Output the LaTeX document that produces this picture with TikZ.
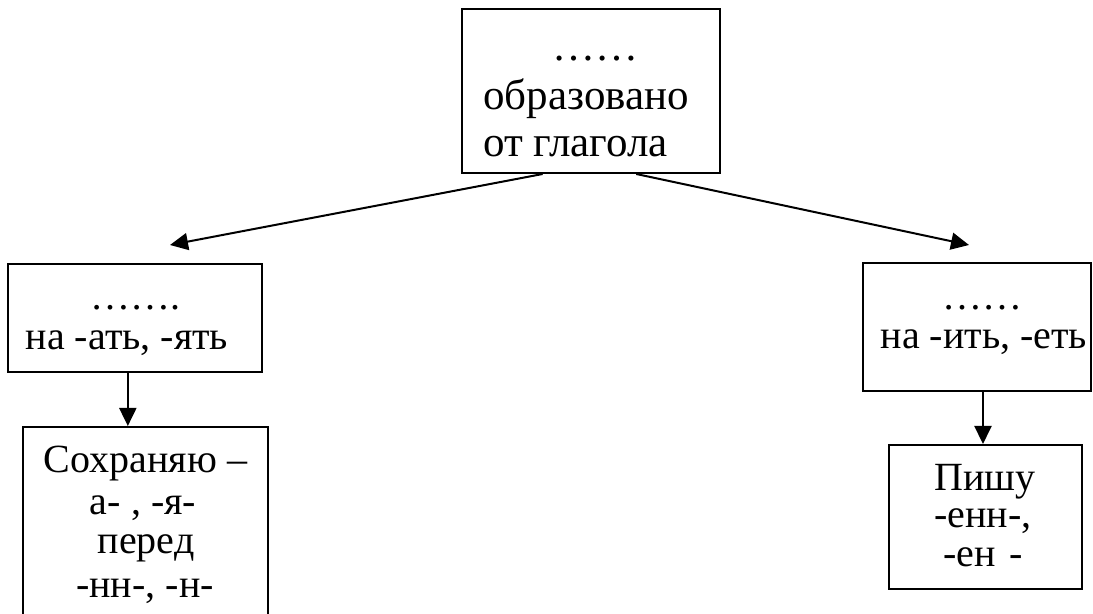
\documentclass[tikz,border=0pt]{standalone}
\usepackage{fontspec}
\setmainfont{Liberation Serif}
\newfontfamily\serf{Liberation Serif}
\usetikzlibrary{arrows.meta,calc}
\tikzset{
  box/.style={draw=black, line width=1pt, rectangle, inner sep=0pt},
  arr/.style={draw=black, line width=1pt, -{Triangle[length=9pt,width=8.5pt]}},
  tl/.style={anchor=base, inner sep=0pt, font=\serf\fontsize{21.5}{24}\selectfont},
  sl/.style={anchor=base, inner sep=0pt, font=\serf\fontsize{20}{23}\selectfont},
}
\begin{document}
\begin{tikzpicture}[x=0.5pt,y=-0.5pt]
\useasboundingbox (0,0) rectangle (1093,614);
\begin{scope}
\clip (0,0) rectangle (1093,614);
% boxes
\node[box, minimum width=129pt, minimum height=82pt] (top) at (591,91) {};
\node[box, minimum width=127pt, minimum height=54pt] (l1) at (135,318) {};
\node[box, minimum width=122.5pt, minimum height=106.5pt] (l2) at (145.5,533.5) {};
\node[box, minimum width=114pt, minimum height=64pt] (r1) at (977,327) {};
\node[box, minimum width=96.5pt, minimum height=72pt] (r2) at (985.5,517) {};
\end{scope}
% texts
\node[tl] (t0) at (595.5,61) {……};
\node[tl, anchor=base west] (t1) at (483,110) {образовано};
\node[tl, anchor=base west] (t2) at (483,157) {от глагола};
\node[sl] (a0) at (135.5,310) {…….};
\node[sl] (a1) at (127,350) {на -ать, -ять};
\node[sl] (b1) at (145.5,473) {Сохраняю –};
\node[sl] (b2) at (143,515) {а- , -я-};
\node[sl] (b3) at (146,553) {перед};
\node[sl] (b4) at (145,597) {-нн-, -н-};
\node[sl] (c0) at (982.5,310) {……};
\node[sl] (c1) at (984,349) {на -ить, -еть};
\node[sl] (d1) at (985,491) {Пишу};
\node[sl] (d2) at (983,528) {-енн-,};
\node[sl] (d3) at (983,567) {-ен\hspace{0.35em}-};
% connectors
\coordinate (lt) at (170,245);
\coordinate (rt) at (969,245);
\draw[arr] ($(top.south west)!0.314!(top.south east)$) -- (lt);
\draw[arr] ($(top.south west)!0.674!(top.south east)$) -- (rt);
\draw[arr] ($(l1.south west)!0.472!(l1.south east)$) coordinate (p1) -- (p1 |- l2.north);
\draw[arr] ($(r1.south west)!0.526!(r1.south east)$) coordinate (p2) -- (p2 |- r2.north);
\end{tikzpicture}
\end{document}
